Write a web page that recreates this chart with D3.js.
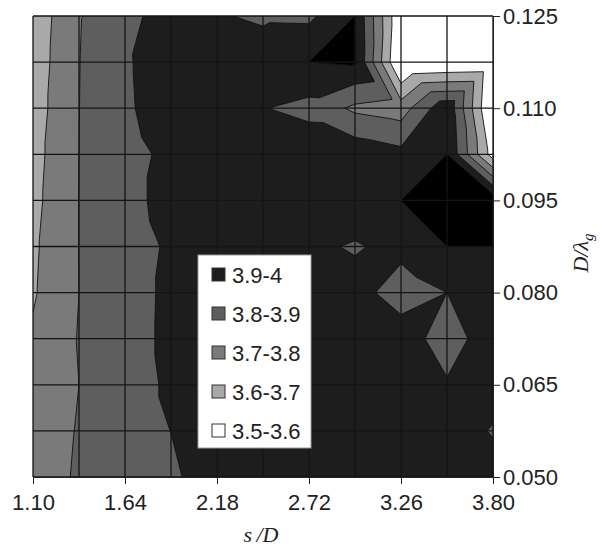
<!DOCTYPE html>
<html>
<head>
<meta charset="utf-8">
<script src="https://cdn.jsdelivr.net/npm/d3@7"></script>
<style>
body { margin: 0; background: #fff; }
svg { display: block; }
.axis text { font-family: "Liberation Sans", Arial, sans-serif; font-size: 22px; fill: #222; }
.axis path, .axis line { stroke: #222; }
.legend text { font-family: "Liberation Sans", Arial, sans-serif; font-size: 22px; fill: #222; }
.title { font-family: "Liberation Serif", "Times New Roman", serif; font-style: italic; font-size: 22px; fill: #222; }
</style>
</head>
<body>
<svg id="chart" width="600" height="547"></svg>
<script>
// s/D along x, D/lambda_g along y (top row first)
const sD = [1.10, 1.37, 1.64, 1.91, 2.18, 2.45, 2.72, 2.99, 3.26, 3.53, 3.80];
const dLambda = [0.125, 0.1175, 0.110, 0.1025, 0.095, 0.0875, 0.080, 0.0725, 0.065, 0.0575, 0.050];

// values, one row per D/lambda_g
const row0125  = [3.634, 3.795, 3.850, 3.978, 3.909, 3.883, 3.880, 4.000, 3.500, 3.500, 3.500];
const row01175 = [3.643, 3.798, 3.885, 3.970, 3.960, 3.960, 4.000, 4.010, 3.472, 3.490, 3.500];
const row0110  = [3.653, 3.799, 3.880, 3.970, 3.950, 3.904, 3.868, 3.780, 3.750, 3.980, 3.470];
const row01025 = [3.665, 3.800, 3.860, 3.928, 3.950, 3.950, 3.975, 3.970, 3.930, 4.000, 3.550];
const row0095  = [3.673, 3.801, 3.860, 3.943, 3.950, 3.960, 3.960, 3.970, 4.000, 4.060, 4.067];
const row00875 = [3.684, 3.801, 3.850, 3.916, 3.950, 3.950, 3.920, 3.890, 3.930, 4.000, 4.000];
const row0080  = [3.690, 3.800, 3.850, 3.925, 3.950, 3.950, 3.950, 3.940, 3.850, 3.900, 3.960];
const row00725 = [3.713, 3.805, 3.850, 3.927, 3.950, 3.950, 3.950, 3.950, 3.955, 3.850, 3.960];
const row0065  = [3.720, 3.800, 3.850, 3.918, 3.950, 3.950, 3.950, 3.950, 3.950, 3.910, 3.957];
const row00575 = [3.730, 3.808, 3.850, 3.901, 3.940, 3.950, 3.950, 3.950, 3.950, 3.967, 3.890];
const row0050  = [3.740, 3.814, 3.850, 3.880, 3.963, 3.950, 3.950, 3.950, 3.950, 3.957, 3.957];
const level = [row0125, row01175, row0110, row01025, row0095, row00875,
               row0080, row00725, row0065, row00575, row0050];

const xTicks = [1.10, 1.64, 2.18, 2.72, 3.26, 3.80];
const yTicks = [0.050, 0.065, 0.080, 0.095, 0.110, 0.125];

// fill thresholds (region >= t) and their colours
const thresholds = [3.6, 3.7, 3.8, 3.9, 4.0];
const fillColors = ["#a9a9a9", "#7a7a7a", "#5e5e5e", "#1d1d1d", "#000000"];
const legendNames = ["3.9-4", "3.8-3.9", "3.7-3.8", "3.6-3.7", "3.5-3.6"];
const legendColors = ["#1d1d1d", "#5e5e5e", "#7a7a7a", "#a9a9a9", "#ffffff"];

const margin = {top: 16, right: 107, bottom: 70, left: 33};
const width = 600 - margin.left - margin.right;
const height = 547 - margin.top - margin.bottom;

const svg = d3.select("#chart");
const g = svg.append("g").attr("transform", "translate(" + margin.left + "," + margin.top + ")");

const x = d3.scaleLinear().domain([1.10, 3.80]).range([0, width]);
const y = d3.scaleLinear().domain([0.050, 0.125]).range([height, 0]);

// split each cell in two triangles, along the diagonal with the higher corners
const tris = [];
for (let r = 0; r < dLambda.length - 1; r++) {
  for (let c = 0; c < sD.length - 1; c++) {
    const p = (rr, cc) => [x(sD[cc]), y(dLambda[rr]), level[rr][cc]];
    const tl = p(r, c), tr = p(r, c + 1), bl = p(r + 1, c), br = p(r + 1, c + 1);
    if (tl[2] + br[2] > tr[2] + bl[2]) tris.push([tl, tr, br], [tl, br, bl]);
    else tris.push([tl, tr, bl], [tr, br, bl]);
  }
}

// part of a triangle at or above t
function above(tri, t) {
  const out = [];
  for (let i = 0; i < tri.length; i++) {
    const a = tri[i], b = tri[(i + 1) % tri.length];
    const da = (a[2] - t) || 1e-9, db = (b[2] - t) || 1e-9;
    if (da > 0) out.push(a);
    if (da * db < 0) {
      const f = da / (da - db);
      out.push([a[0] + f * (b[0] - a[0]), a[1] + f * (b[1] - a[1]), t]);
    }
  }
  return out;
}

// iso segment of a triangle at t
function cut(tri, t) {
  const pts = [];
  for (let i = 0; i < 3; i++) {
    const a = tri[i], b = tri[(i + 1) % 3];
    const da = (a[2] - t) || 1e-9, db = (b[2] - t) || 1e-9;
    if (da * db < 0) {
      const f = da / (da - db);
      pts.push([a[0] + f * (b[0] - a[0]), a[1] + f * (b[1] - a[1])]);
    }
  }
  return pts.length === 2 ? pts : null;
}

svg.append("defs").append("clipPath").attr("id", "plotClip")
  .append("rect").attr("width", width).attr("height", height);

const area = g.append("g").attr("clip-path", "url(#plotClip)");
area.append("rect").attr("width", width).attr("height", height).attr("fill", "#fff");

const poly = d3.line().x(d => d[0]).y(d => d[1]);

// one path per level so the triangles join without seams
area.selectAll("path.band").data(thresholds).join("path")
  .attr("class", "band")
  .attr("d", t => tris.map(tri => above(tri, t)).filter(p => p.length >= 3)
    .map(p => poly(p) + "Z").join(""))
  .attr("fill", (t, i) => fillColors[i]);

// band borders
area.selectAll("path.iso").data(thresholds).join("path")
  .attr("class", "iso")
  .attr("d", t => tris.map(tri => cut(tri, t)).filter(s => s).map(s => poly(s)).join(""))
  .attr("fill", "none")
  .attr("stroke", "#111")
  .attr("stroke-width", 0.9);

// grid
g.append("g").selectAll("line").data(sD).join("line")
  .attr("x1", d => x(d)).attr("x2", d => x(d))
  .attr("y1", 0).attr("y2", height)
  .attr("stroke", "#141414").attr("stroke-width", 1.3);
g.append("g").selectAll("line").data(dLambda).join("line")
  .attr("x1", 0).attr("x2", width)
  .attr("y1", d => y(d)).attr("y2", d => y(d))
  .attr("stroke", "#141414").attr("stroke-width", 1.3);

g.append("g").attr("class", "axis")
  .attr("transform", "translate(0," + height + ")")
  .call(d3.axisBottom(x).tickValues(xTicks).tickFormat(d3.format(".2f"))
    .tickSize(7).tickSizeOuter(0).tickPadding(10));

g.append("g").attr("class", "axis")
  .attr("transform", "translate(" + width + ",0)")
  .call(d3.axisRight(y).tickValues(yTicks).tickFormat(d3.format(".3f"))
    .tickSize(7).tickSizeOuter(0).tickPadding(3));

// legend
const legend = g.append("g").attr("class", "legend").attr("transform", "translate(165,239)");
legend.append("rect").attr("width", 113).attr("height", 193)
  .attr("fill", "#fff").attr("stroke", "#999").attr("stroke-width", 1);
const item = legend.selectAll("g.item").data(legendNames).join("g")
  .attr("class", "item")
  .attr("transform", (d, i) => "translate(14," + (20 + i * 39) + ")");
item.append("rect").attr("y", -7).attr("width", 13).attr("height", 13)
  .attr("fill", (d, i) => legendColors[i]).attr("stroke", "#333").attr("stroke-width", 1);
item.append("text").attr("x", 20).attr("y", 8).text(d => d);

// axis titles
svg.append("text").attr("class", "title")
  .attr("x", 261).attr("y", 542).attr("text-anchor", "middle")
  .text("s\u2009/D");
const yt = svg.append("text").attr("class", "title")
  .attr("transform", "translate(588,253) rotate(-90)").attr("text-anchor", "middle");
yt.append("tspan").text("D/\u03bb");
yt.append("tspan").attr("dy", 5).attr("font-size", 15).text("g");
</script>
</body>
</html>
